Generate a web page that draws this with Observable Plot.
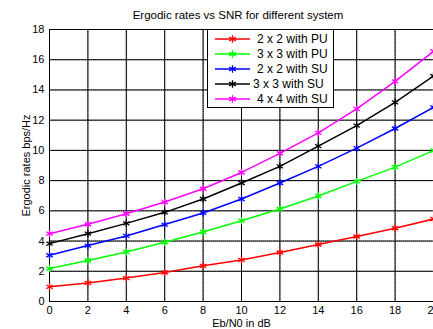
<!DOCTYPE html>
<html><head><meta charset="utf-8">
<script src="https://cdn.jsdelivr.net/npm/d3@7"></script>
<script src="https://cdn.jsdelivr.net/npm/@observablehq/plot@0.6"></script>
<style>
html,body{margin:0;padding:0;overflow:hidden;background:#fff}
#wrap{position:relative;width:433px;height:329px;overflow:hidden;font-family:"Liberation Sans",Arial,sans-serif}
#title{position:absolute;z-index:5;top:9px;left:238px;transform:translateX(-50%);font-size:11.5px;white-space:nowrap;color:#000}
#legend{position:absolute;z-index:4;left:207px;top:29px}
</style></head>
<body><div id="wrap"><div id="title">Ergodic rates vs SNR for different system</div></div>
<script>
const snr = [0, 2, 4, 6, 8, 10, 12, 14, 16, 18, 20];
const rate2x2PU = [0.97, 1.23, 1.55, 1.92, 2.36, 2.75, 3.24, 3.77, 4.30, 4.85, 5.46];
const rate3x3PU = [2.18, 2.71, 3.28, 3.92, 4.60, 5.35, 6.12, 6.98, 7.95, 8.89, 9.99];
const rate2x2SU = [3.06, 3.70, 4.34, 5.09, 5.86, 6.78, 7.84, 8.94, 10.15, 11.45, 12.85];
const rate3x3SU = [3.83, 4.49, 5.17, 5.90, 6.78, 7.84, 8.94, 10.28, 11.64, 13.18, 14.92];
const rate4x4SU = [4.49, 5.11, 5.81, 6.58, 7.46, 8.54, 9.80, 11.16, 12.75, 14.57, 16.55];
const seriesNames = ["2 x 2 with PU", "3 x 3 with PU", "2 x 2 with SU", "3 x 3 with SU", "4 x 4 with SU"];
const seriesColors = ["#ff0000", "#00ff00", "#0000ff", "#000000", "#ff00ff"];
const xTicks = [0, 2, 4, 6, 8, 10, 12, 14, 16, 18, 20];
const yTicks = [0, 2, 4, 6, 8, 10, 12, 14, 16, 18];

const allSeries = [rate2x2PU, rate3x3PU, rate2x2SU, rate3x3SU, rate4x4SU];
const data = [];
allSeries.forEach((vals, i) => vals.forEach((v, j) => data.push({x: snr[j], y: v, s: seriesNames[i]})));

const chart = Plot.plot({
  width: 460, height: 329,
  marginLeft: 49, marginRight: 27, marginTop: 29, marginBottom: 28,
  style: {fontFamily: '"Liberation Sans", Arial, sans-serif', fontSize: "11px", color: "#000", background: "#fff"},
  x: {domain: [0, 20], ticks: xTicks, label: null},
  y: {domain: [0, 18], ticks: yTicks, label: null},
  color: {domain: seriesNames, range: seriesColors},
  marks: [
    Plot.gridX(xTicks, {stroke: "#333", strokeOpacity: 0.75, strokeDasharray: "1,1"}),
    Plot.gridY(yTicks, {stroke: "#333", strokeOpacity: 0.75, strokeDasharray: "1,1"}),
    Plot.frame({stroke: "#000"}),
    Plot.axisX({ticks: xTicks, tickSize: 0, tickPadding: 5, label: "Eb/N0 in dB", labelAnchor: "center", labelArrow: "none", labelOffset: 25}),
    Plot.axisY({ticks: yTicks, tickSize: 0, tickPadding: 5, label: "Ergodic rates bps/Hz", labelAnchor: "center", labelArrow: "none", labelOffset: 27}),
    Plot.tickX(xTicks, {x: d => d, y1: 0, y2: 0.3, stroke: "#000"}),
    Plot.tickY(yTicks, {y: d => d, x1: 0, x2: 0.25, stroke: "#000"}),
    Plot.line(data, {x: "x", y: "y", z: "s", stroke: "s", strokeWidth: 1.5}),
    Plot.dot(data, {x: "x", y: "y", stroke: "s", symbol: "asterisk", r: 3.5, strokeWidth: 1.3})
  ]
});
const wrap = document.getElementById("wrap");
wrap.appendChild(chart);
chart.style.position = "absolute"; chart.style.left = "0"; chart.style.top = "0"; chart.style.maxWidth = "none";

// legend
const lw = 126, lh = 78;
const leg = d3.select(wrap).append("svg").attr("id", "legend").attr("width", lw + 1).attr("height", lh + 1);
leg.append("rect").attr("x", 0.5).attr("y", 0.5).attr("width", lw).attr("height", lh).attr("fill", "#fff").attr("stroke", "#000");
const sym = d3.symbol(d3.symbolAsterisk, 40);
seriesNames.forEach((n, i) => {
  const y = 10 + i * 15;
  const g = leg.append("g").attr("transform", `translate(0,${y})`);
  g.append("line").attr("x1", 8).attr("x2", 43).attr("y1", 0).attr("y2", 0).attr("stroke", seriesColors[i]).attr("stroke-width", 1.5);
  g.append("path").attr("d", sym()).attr("transform", "translate(25.5,0)").attr("fill", "none").attr("stroke", seriesColors[i]).attr("stroke-width", 1.3);
  g.append("text").attr("x", i === 3 ? 46 : 50).attr("y", 0).attr("dy", "0.35em").attr("font-size", "12px").attr("font-family", '"Liberation Sans", Arial, sans-serif').text(n);
});
</script></body></html>
